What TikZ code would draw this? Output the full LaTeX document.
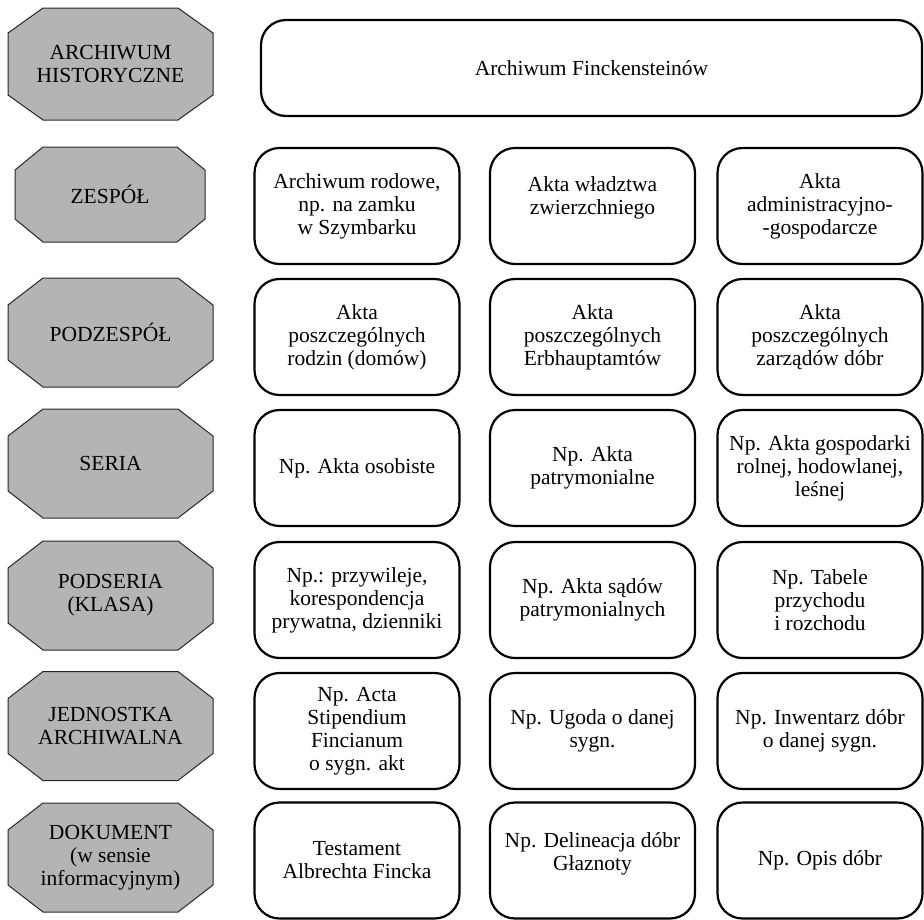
\documentclass[tikz,border=0pt]{standalone}
\usepackage{fontspec}
\setmainfont{Liberation Serif}
\definecolor{octfill}{RGB}{180,180,180}
\definecolor{octline}{RGB}{40,40,40}
\tikzset{
  octstyle/.style={fill=octfill,draw=octline,line width=1pt,line join=miter},
  octtext/.style={inner sep=0pt,align=center,font=\fontsize{21.5}{23}\selectfont},
  rbox/.style={draw=black,line width=2.2pt,rounded corners=25pt,fill=white,
    minimum width=205pt,minimum height=116pt,inner sep=2pt,align=center,
    font=\fontsize{21.5}{23}\selectfont},
  rtext/.style={inner sep=0pt,align=center,font=\fontsize{21.5}{23}\selectfont},
}
% name, cx, cy, half width, half height, cut x, cut y, text
\newcommand{\octbox}[8]{%
  \draw[octstyle] (#2-#4,#3-#5+#7) -- (#2-#4+#6,#3-#5) -- (#2+#4-#6,#3-#5)
    -- (#2+#4,#3-#5+#7) -- (#2+#4,#3+#5-#7) -- (#2+#4-#6,#3+#5)
    -- (#2-#4+#6,#3+#5) -- (#2-#4,#3+#5-#7) -- cycle;
  \node[octtext] (#1) at (#2,#3) {#8};}
\begin{document}
\begin{tikzpicture}[x=1pt,y=-1pt]
\useasboundingbox (0,0) rectangle (924,919);
% level octagons
\octbox{l1}{110.5}{64}{102.5}{56}{35}{25}{ARCHIWUM\\HISTORYCZNE}
\octbox{l2}{110}{194.5}{95}{47.5}{28}{23}{ZESPÓŁ}
\octbox{l3}{110.5}{332.5}{102.5}{54.5}{35}{27}{PODZESPÓŁ}
\octbox{l4}{110.5}{463.5}{102.5}{54.5}{35}{27}{SERIA}
\octbox{l5}{110.5}{595.5}{102.5}{54.5}{35}{27}{PODSERIA\\(KLASA)}
\octbox{l6}{110.5}{726}{102.5}{54.5}{35}{27}{JEDNOSTKA\\ARCHIWALNA}
\octbox{l7}{110.5}{857.5}{102.5}{54.5}{35}{27}{DOKUMENT\\(w sensie\\informacyjnym)}
% top box
\node[rbox,minimum width=661pt,minimum height=96pt] (top) at (591.5,68) {Archiwum Finckensteinów};
% row 2
\node[rbox] (a2) at (357,206) {Archiwum rodowe,\\np. na zamku\\w Szymbarku};
\node[rbox] (b2) at (592.5,206) {};
\node[rtext] (b2t) at (592.5,198) {Akta władztwa\\zwierzchniego};
\node[rbox] (c2) at (820,206) {Akta\\administracyjno-\\-gospodarcze};
% row 3
\node[rbox] (a3) at (357,337) {Akta\\poszczególnych\\rodzin (domów)};
\node[rbox] (b3) at (592.5,337) {Akta\\poszczególnych\\Erbhauptamtów};
\node[rbox] (c3) at (820,337) {Akta\\poszczególnych\\zarządów dóbr};
% row 4
\node[rbox] (a4) at (357,468) {Np. Akta osobiste};
\node[rbox] (b4) at (592.5,468) {Np. Akta\\patrymonialne};
\node[rbox] (c4) at (820,468) {Np. Akta gospodarki\\rolnej, hodowlanej,\\leśnej};
% row 5
\node[rbox] (a5) at (357,600) {Np.: przywileje,\\korespondencja\\prywatna, dzienniki};
\node[rbox] (b5) at (592.5,600) {Np. Akta sądów\\patrymonialnych};
\node[rbox] (c5) at (820,600) {Np. Tabele\\przychodu\\i rozchodu};
% row 6
\node[rbox] (a6) at (357,731) {Np. Acta\\Stipendium\\Fincianum\\o sygn. akt};
\node[rbox] (b6) at (592.5,731) {Np. Ugoda o danej\\sygn.};
\node[rbox] (c6) at (820,731) {Np. Inwentarz dóbr\\o danej sygn.};
% row 7
\node[rbox] (a7) at (357,860.5) {Testament\\Albrechta Fincka};
\node[rbox] (b7) at (592.5,860.5) {};
\node[rtext] (b7t) at (592.5,854) {Np. Delineacja dóbr\\Głaznoty};
\node[rbox] (c7) at (820,860.5) {Np. Opis dóbr};
\end{tikzpicture}
\end{document}
